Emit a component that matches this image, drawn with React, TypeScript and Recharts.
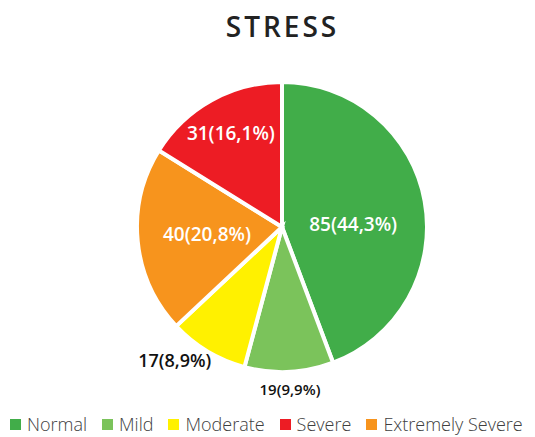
import React from 'react';
import { PieChart, Pie, Cell } from 'recharts';

// slices in the order they are drawn clockwise from 12 o'clock
const categories = ['Normal', 'Mild', 'Moderate', 'Extremely Severe', 'Severe'];
const counts = [85, 19, 17, 40, 31];
const percentLabels = ['44,3%', '9,9%', '8,9%', '20,8%', '16,1%'];
const colors = ['#41AD49', '#7BC35B', '#FFF100', '#F7941D', '#ED1C24'];
// legend lists them in another order
const legendOrder = ['Normal', 'Mild', 'Moderate', 'Severe', 'Extremely Severe'];

const pieData = categories.map((name, i) => ({ name, value: counts[i], pct: percentLabels[i], color: colors[i] }));

const FONT = '"Open Sans", "DejaVu Sans", sans-serif';
const RADIAN = Math.PI / 180;

// small hand nudges so labels land where the original's "best fit" put them
const labelNudge: Record<number, [number, number]> = { 0: [-3, 10], 2: [-20, -13], 4: [1, 0] };

const renderLabel = (props: any) => {
  const { cx, cy, midAngle, outerRadius, percent, index } = props;
  const entry = pieData[index];
  const outside = percent < 0.12;
  let factor = 0.52;
  if (outside) factor = index === 2 ? 1.17 : 1.12;
  else if (percent < 0.18) factor = 0.74;
  const r = outerRadius * factor;
  const [nx, ny] = labelNudge[index] || [0, 0];
  const x = cx + r * Math.cos(-midAngle * RADIAN) + nx;
  const y = cy + r * Math.sin(-midAngle * RADIAN) + ny;
  return (
    <text
      x={x}
      y={y}
      fill={outside ? '#111' : '#fff'}
      textAnchor="middle"
      dominantBaseline="central"
      fontFamily={FONT}
      fontSize={outside ? (index === 2 ? 18 : 15) : 19}
      fontWeight={600}
    >
      {`${entry.value}(${entry.pct})`}
    </text>
  );
};

export default function App() {
  return (
    <div style={{ position: 'absolute', left: 0, top: 0, width: 535, height: 437, background: '#fff' }}>
      <div
        style={{
          position: 'absolute',
          top: 7,
          left: 0,
          width: 565,
          textAlign: 'center',
          fontFamily: FONT,
          fontSize: 28,
          fontWeight: 600,
          letterSpacing: 3,
          color: '#222',
        }}
      >
        STRESS
      </div>
      <PieChart width={535} height={437}>
        <Pie
          data={pieData}
          dataKey="value"
          nameKey="name"
          cx={277}
          cy={222}
          outerRadius={145}
          startAngle={90}
          endAngle={-270}
          stroke="#fff"
          strokeWidth={4}
          labelLine={false}
          label={renderLabel}
          isAnimationActive={false}
        >
          {pieData.map((d, i) => (
            <Cell key={`cell-${i}`} fill={d.color} />
          ))}
        </Pie>
      </PieChart>
      <div
        style={{
          position: 'absolute',
          top: 411,
          left: 10,
          display: 'flex',
          gap: 15,
          whiteSpace: 'nowrap',
          fontFamily: FONT,
        }}
      >
        {legendOrder.map((name) => {
          const d = pieData.find((p) => p.name === name)!;
          return (
            <div key={name} style={{ display: 'flex', alignItems: 'center', gap: 6 }}>
              <div style={{ width: 11, height: 11, backgroundColor: d.color }} />
              <span style={{ fontSize: 18, color: '#404040', fontWeight: 300, lineHeight: '26px' }}>{name}</span>
            </div>
          );
        })}
      </div>
    </div>
  );
}
